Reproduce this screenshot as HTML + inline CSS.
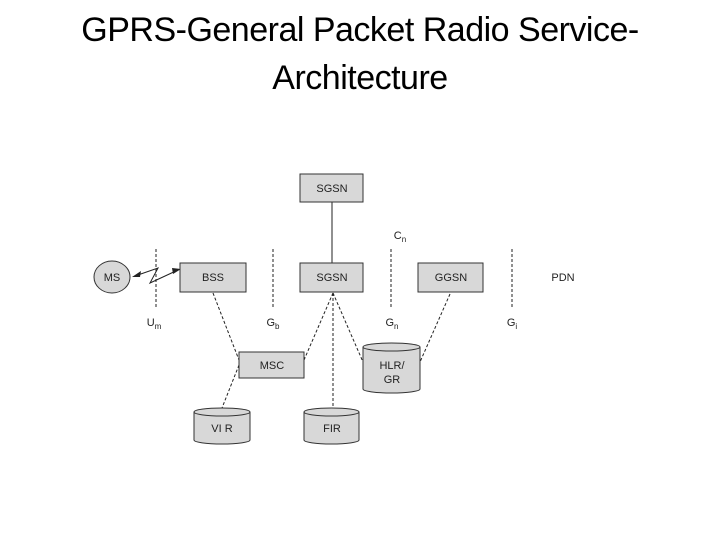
<!DOCTYPE html>
<html><head><style>
body{margin:0;width:720px;height:540px;background:#fff;overflow:hidden;font-family:"Liberation Sans",sans-serif}
.t{position:absolute;left:0;width:720px;text-align:center;font-size:34px;line-height:48px;top:6px;color:#000;letter-spacing:-0.5px}
</style></head><body>
<div class="t">GPRS-General Packet Radio Service-<br>Architecture</div>
<svg width="720" height="540" style="position:absolute;left:0;top:0" font-family="Liberation Sans, sans-serif">
<g stroke="#222" stroke-width="1" stroke-dasharray="3,2" fill="none">
<line x1="156" y1="249" x2="156" y2="309"/>
<line x1="273" y1="249" x2="273" y2="309"/>
<line x1="391" y1="249" x2="391" y2="309"/>
<line x1="512" y1="249" x2="512" y2="309"/>
<line x1="213" y1="293" x2="239" y2="360"/>
<line x1="239" y1="365" x2="222" y2="408"/>
<line x1="333" y1="293" x2="304" y2="360"/>
<line x1="333" y1="293" x2="333" y2="408"/>
<line x1="333" y1="293" x2="363" y2="362"/>
<line x1="450" y1="294" x2="420" y2="362"/>
</g>
<line x1="332" y1="202" x2="332" y2="263" stroke="#222"/>
<polyline points="135,276 158,268 150,283 178,270" fill="none" stroke="#222"/>
<polygon points="132,277 141,271 140,277" fill="#222"/>
<polygon points="181,269 172,268 173,274" fill="#222"/>
<g fill="#d8d8d8" stroke="#333" stroke-width="1">
<rect x="300" y="174" width="63" height="28"/>
<rect x="300" y="263" width="63" height="29"/>
<rect x="180" y="263" width="66" height="29"/>
<rect x="418" y="263" width="65" height="29"/>
<rect x="239" y="352" width="65" height="26"/>
<ellipse cx="112" cy="277" rx="18" ry="16"/>
<path d="M363,347 V389 A28.5,4 0 0 0 420,389 V347"/>
<ellipse cx="391.5" cy="347" rx="28.5" ry="4"/>
<path d="M194,412 V440 A28,4 0 0 0 250,440 V412"/>
<ellipse cx="222" cy="412" rx="28" ry="4"/>
<path d="M304,412 V440 A27.5,4 0 0 0 359,440 V412"/>
<ellipse cx="331.5" cy="412" rx="27.5" ry="4"/>
</g>
<g font-size="11" fill="#222" text-anchor="middle">
<text x="332" y="192">SGSN</text>
<text x="332" y="281">SGSN</text>
<text x="213" y="281">BSS</text>
<text x="451" y="281">GGSN</text>
<text x="112" y="281">MS</text>
<text x="272" y="369">MSC</text>
<text x="392" y="369">HLR/</text>
<text x="392" y="383">GR</text>
<text x="222" y="432">VI R</text>
<text x="332" y="432">FIR</text>
<text x="563" y="281">PDN</text>
<text x="154" y="326">U<tspan font-size="8" dy="3">m</tspan></text>
<text x="273" y="326">G<tspan font-size="8" dy="3">b</tspan></text>
<text x="392" y="326">G<tspan font-size="8" dy="3">n</tspan></text>
<text x="512" y="326">G<tspan font-size="8" dy="3">i</tspan></text>
<text x="400" y="239">C<tspan font-size="8" dy="3">n</tspan></text>
</g>
</svg>
</body></html>
